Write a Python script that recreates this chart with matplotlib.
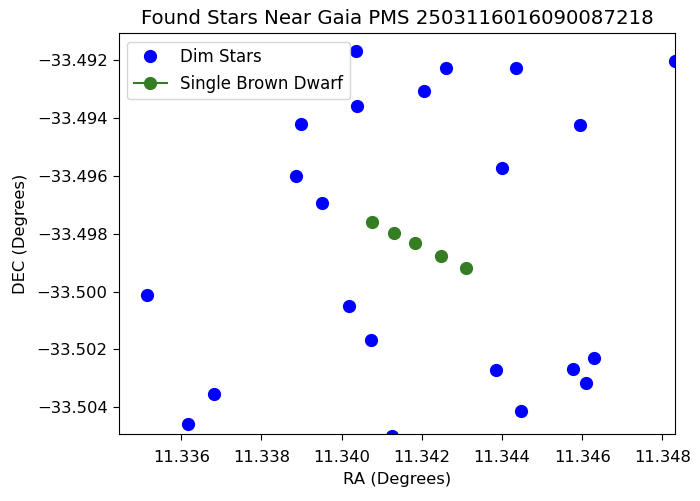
import matplotlib
matplotlib.use("Agg")
import matplotlib.pyplot as plt

dim_ra = [11.34036, 11.34038, 11.33899, 11.33886, 11.33951, 11.34259, 11.34205,
          11.34436, 11.34832, 11.34594, 11.34399, 11.33514, 11.34019, 11.34072,
          11.33682, 11.33617, 11.34125, 11.34384, 11.34446, 11.34576, 11.34609,
          11.34630, 11.34574]
dim_dec = [-33.49169, -33.49359, -33.49420, -33.49601, -33.49695, -33.49227, -33.49308,
           -33.49227, -33.49202, -33.49425, -33.49572, -33.50013, -33.50050, -33.50168,
           -33.50354, -33.50456, -33.50500, -33.50272, -33.50412, -33.50268, -33.50317,
           -33.50230, -33.50525]

bd_ra = [11.34075, 11.34130, 11.34182, 11.34247, 11.34311]
bd_dec = [-33.49759, -33.49799, -33.49832, -33.49877, -33.49920]

title = "Found Stars Near Gaia PMS 2503116016090087218"

fig = plt.figure(figsize=(7.0, 5.01), dpi=100)
ax = fig.add_axes([0.1696, 0.1343, 0.7951, 0.7992])

green = '#347d23'
ax.plot(dim_ra, dim_dec, 'o', color='blue', markersize=8.5, linestyle='none', label='Dim Stars')
for i, (r, d) in enumerate(zip(bd_ra, bd_dec)):
    ax.plot([r], [d], 'o-', color=green, markersize=8.5,
            label='Single Brown Dwarf' if i == 0 else None)

ax.set_xlim(11.33444, 11.34832)
ax.set_ylim(-33.504912, -33.491078)
ax.set_xticks([11.336, 11.338, 11.340, 11.342, 11.344, 11.346, 11.348])
ax.set_yticks([-33.504, -33.502, -33.500, -33.498, -33.496, -33.494, -33.492])
ax.tick_params(labelsize=11.8, length=4.5)
ax.tick_params(axis='x', pad=7)
ax.set_xlabel("RA (Degrees)", fontsize=11.8, labelpad=5)
ax.set_ylabel("DEC (Degrees)", fontsize=11.8, labelpad=6)
ax.set_title(title, fontsize=14.2, pad=7)
ax.legend(loc='upper left', fontsize=12, borderaxespad=0.5)

fig.savefig("out.png", dpi=100)
